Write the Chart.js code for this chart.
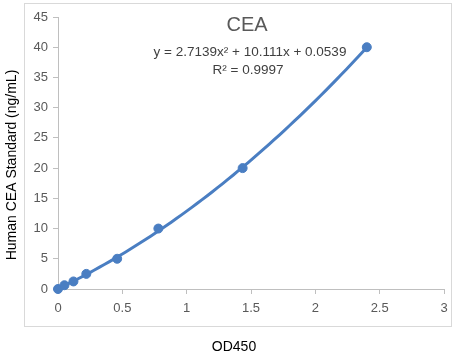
<!DOCTYPE html>
<html><head><meta charset="utf-8">
<script src="https://cdn.jsdelivr.net/npm/chart.js@4/dist/chart.umd.min.js"></script>
<style>html,body{margin:0;padding:0;background:#fff}#wrap{width:455px;height:358px}</style>
</head><body><div id="wrap"><canvas id="c" width="455" height="358"></canvas></div>
<script>
const od450 = [0, 0.05, 0.12, 0.22, 0.46, 0.78, 1.435, 2.40];
const ceaStandard = [0, 0.625, 1.25, 2.5, 5, 10, 20, 40];
const trendCoefficients = [2.7139, 10.111, 0.0539]; // a, b, c of y = ax^2 + bx + c
const xTicks = [0, 0.5, 1, 1.5, 2, 2.5, 3];
const yTicks = [0, 5, 10, 15, 20, 25, 30, 35, 40, 45];
const chartTitle = 'CEA';
const equationText = 'y = 2.7139x² + 10.111x + 0.0539';
const r2Text = 'R² = 0.9997';
const xTitle = 'OD450';
const yTitle = 'Human CEA Standard (ng/mL)';

const points = od450.map((x, i) => ({x, y: ceaStandard[i]}));
const xMax = od450[od450.length - 1];
const trend = [];
for (let k = 0; k <= 60; k++) {
  const x = xMax * k / 60;
  trend.push({x, y: trendCoefficients[0]*x*x + trendCoefficients[1]*x + trendCoefficients[2]});
}

const blue = '#4a7ec2';
const decor = {
  id: 'decor',
  beforeDraw(chart) {
    const ctx = chart.ctx;
    ctx.save();
    ctx.strokeStyle = '#d9d9d9';
    ctx.lineWidth = 1;
    ctx.strokeRect(24.5, 3.5, 427, 323);
    ctx.restore();
  },
  afterDraw(chart) {
    const ctx = chart.ctx;
    ctx.save();
    ctx.textAlign = 'center';
    ctx.textBaseline = 'middle';
    ctx.fillStyle = '#595959';
    ctx.font = '20px "Liberation Sans", Arial, sans-serif';
    ctx.fillText(chartTitle, 247, 25);
    ctx.fillStyle = '#404040';
    ctx.font = '13.5px "Liberation Sans", Arial, sans-serif';
    ctx.fillText(equationText, 250, 52);
    ctx.fillText(r2Text, 248, 70);
    ctx.fillStyle = '#000';
    ctx.font = '14px "Liberation Sans", Arial, sans-serif';
    ctx.fillText(xTitle, 234, 347);
    ctx.translate(12, 165);
    ctx.rotate(-Math.PI/2);
    ctx.fillText(yTitle, 0, 0);
    ctx.restore();
  }
};

new Chart(document.getElementById('c'), {
  type: 'scatter',
  data: {
    datasets: [
      {data: trend, showLine: true, borderColor: blue, borderWidth: 3, pointRadius: 0, fill: false, order: 2, clip: false},
      {data: points, showLine: false, backgroundColor: blue, borderColor: blue, pointRadius: 4.5, pointHoverRadius: 4.5, order: 1, clip: false}
    ]
  },
  options: {
    responsive: false,
    animation: false,
    events: [],
    layout: {padding: {top: 17, right: 11, left: 0, bottom: 0}},
    plugins: {legend: {display: false}, tooltip: {enabled: false}},
    scales: {
      x: {
        type: 'linear', min: 0, max: 3,
        afterBuildTicks: s => { s.ticks = xTicks.map(v => ({value: v})); },
        afterFit: s => { s.height = 69; },
        grid: {drawOnChartArea: false, drawTicks: true, tickLength: 5, color: '#bfbfbf'},
        border: {color: '#bfbfbf'},
        ticks: {color: '#595959', font: {size: 13, family: '"Liberation Sans", Arial, sans-serif'}, padding: 7, maxRotation: 0,
          callback: v => String(v)}
      },
      y: {
        type: 'linear', min: 0, max: 45,
        afterBuildTicks: s => { s.ticks = yTicks.map(v => ({value: v})); },
        afterFit: s => { s.width = 58; },
        grid: {drawOnChartArea: false, drawTicks: true, tickLength: 5, color: '#bfbfbf'},
        border: {color: '#bfbfbf'},
        ticks: {color: '#595959', font: {size: 13, family: '"Liberation Sans", Arial, sans-serif'}, padding: 5,
          callback: v => String(v)}
      }
    }
  },
  plugins: [decor]
});
</script></body></html>
